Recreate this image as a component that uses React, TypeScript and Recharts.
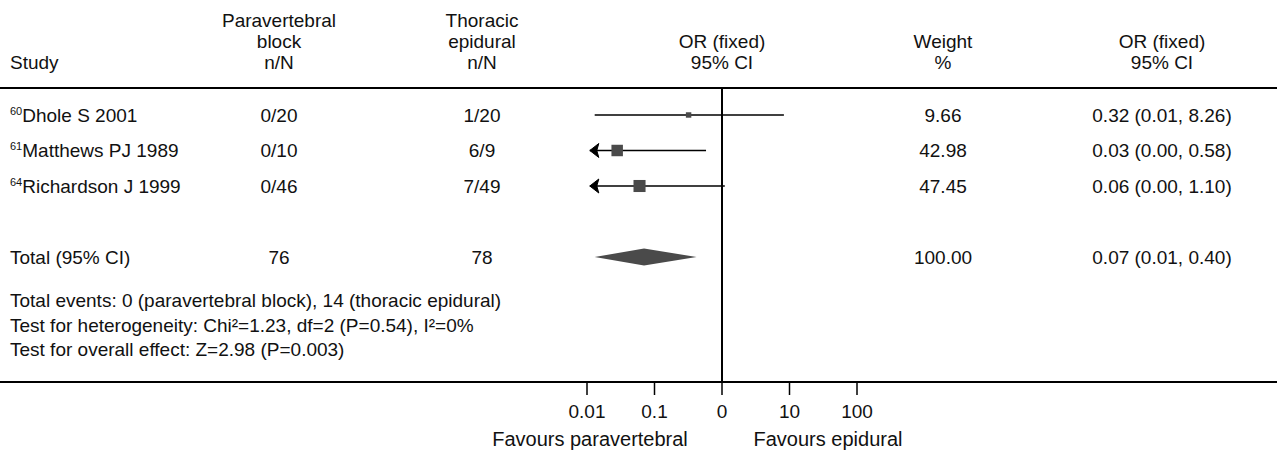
import { Area, ComposedChart, Customized, ReferenceLine, Scatter, XAxis, YAxis } from 'recharts'

// study rows
const studyNames = ['Dhole S 2001', 'Matthews PJ 1989', 'Richardson J 1999']
const studyRefs = ['60', '61', '64']
const pvbCounts = ['0/20', '0/10', '0/46']
const epiCounts = ['1/20', '6/9', '7/49']
const oddsRatios = [0.32, 0.028, 0.06]
const ciLower = [0.013, 0.011, 0.011] // as drawn (0.00 runs off the scale)
const ciUpper = [8.26, 0.58, 1.1]
const lowerClipped = [false, true, true]
const weights = [9.66, 42.98, 47.45]
const ciLabels = ['0.32 (0.01, 8.26)', '0.03 (0.00, 0.58)', '0.06 (0.00, 1.10)']
const studyRows = [1, 2, 3]

// pooled result
const totalRow = 5
const totalOr = 0.07
const totalLower = 0.013
const totalUpper = 0.42
const totalPvb = '76'
const totalEpi = '78'
const totalWeight = '100.00'
const totalLabel = '0.07 (0.01, 0.40)'

const tickValues = [0.01, 0.1, 1, 10, 100]
const tickLabels = ['0.01', '0.1', '0', '10', '100']

const footLines = [
  'Total events: 0 (paravertebral block), 14 (thoracic epidural)',
  'Test for heterogeneity: Chi²=1.23, df=2 (P=0.54), I²=0%',
  'Test for overall effect: Z=2.98 (P=0.003)',
]

const FONT = '"Liberation Sans", Arial, sans-serif'
const FS = 19
const COL = { study: 10, pvb: 279, epi: 482, plot: 722, weight: 943, ci: 1162 }
const DIAMOND_HALF = 0.24

const studies = studyNames.map((name, i) => ({
  x: oddsRatios[i],
  y: studyRows[i],
  name,
  ref: studyRefs[i],
  pvb: pvbCounts[i],
  epi: epiCounts[i],
  weight: weights[i],
  ci: ciLabels[i],
}))

const ciSegments = studyNames.map((_, i) => [
  { x: ciLower[i], y: studyRows[i], arrow: lowerClipped[i] },
  { x: ciUpper[i], y: studyRows[i], arrow: false },
])

const totalData = [
  { x: totalOr, y: totalRow, name: 'Total (95% CI)', pvb: totalPvb, epi: totalEpi, weight: totalWeight, ci: totalLabel },
]

const diamond = [
  { x: totalLower, band: [totalRow, totalRow] },
  { x: totalOr, band: [totalRow - DIAMOND_HALF, totalRow + DIAMOND_HALF] },
  { x: totalUpper, band: [totalRow, totalRow] },
]

const RowText = (props: any) => {
  const { cy, payload } = props
  const y = cy + 7
  return (
    <g fontFamily={FONT} fontSize={FS} fill="#111">
      <text x={COL.study} y={y}>
        {payload.ref ? (
          <>
            <tspan fontSize={11} dy={-7}>{payload.ref}</tspan>
            <tspan dy={7}>{payload.name}</tspan>
          </>
        ) : (
          payload.name
        )}
      </text>
      <text x={COL.pvb} y={y} textAnchor="middle">{payload.pvb}</text>
      <text x={COL.epi} y={y} textAnchor="middle">{payload.epi}</text>
      <text x={COL.weight} y={y} textAnchor="middle">
        {typeof payload.weight === 'number' ? payload.weight.toFixed(2) : payload.weight}
      </text>
      <text x={COL.ci} y={y} textAnchor="middle">{payload.ci}</text>
    </g>
  )
}

const Box = (props: any) => {
  const { cx, cy, payload } = props
  const s = 1.75 * Math.sqrt(payload.weight)
  return <rect x={cx - s / 2} y={cy - s / 2} width={s} height={s} fill="#4a4a4a" />
}

const Endpoint = (props: any) => {
  const { cx, cy, payload } = props
  if (!payload.arrow) return <g />
  return <path d={`M${cx},${cy} L${cx + 9},${cy - 7} L${cx + 7},${cy} L${cx + 9},${cy + 7} Z`} fill="#000" stroke="#000" strokeWidth={1} strokeLinejoin="round" />
}

const Decor = () => (
  <g fontFamily={FONT} fontSize={FS} fill="#111">
    <text x={COL.study} y={69}>Study</text>
    <text x={COL.pvb} y={27} textAnchor="middle">Paravertebral</text>
    <text x={COL.pvb} y={48} textAnchor="middle">block</text>
    <text x={COL.pvb} y={69} textAnchor="middle">n/N</text>
    <text x={COL.epi} y={27} textAnchor="middle">Thoracic</text>
    <text x={COL.epi} y={48} textAnchor="middle">epidural</text>
    <text x={COL.epi} y={69} textAnchor="middle">n/N</text>
    <text x={COL.plot} y={48} textAnchor="middle">OR (fixed)</text>
    <text x={COL.plot} y={69} textAnchor="middle">95% CI</text>
    <text x={COL.weight} y={48} textAnchor="middle">Weight</text>
    <text x={COL.weight} y={69} textAnchor="middle">%</text>
    <text x={COL.ci} y={48} textAnchor="middle">OR (fixed)</text>
    <text x={COL.ci} y={69} textAnchor="middle">95% CI</text>
    <line x1={0} x2={1277} y1={88} y2={88} stroke="#000" strokeWidth={2} />
    <line x1={0} x2={1277} y1={382} y2={382} stroke="#000" strokeWidth={2} />
    {footLines.map((t, i) => (
      <text key={i} x={COL.study} y={307 + i * 24.5}>{t}</text>
    ))}
    <text x={590} y={446} fontSize={20} textAnchor="middle">Favours paravertebral</text>
    <text x={828} y={446} fontSize={20} textAnchor="middle">Favours epidural</text>
  </g>
)

export default function App() {
  return (
    <div style={{ position: 'absolute', left: 0, top: 0, background: '#fff' }}>
      <ComposedChart
        width={1277}
        height={454}
        data={diamond}
        margin={{ top: 88, right: 420, bottom: 32, left: 587 }}
      >
        <XAxis
          dataKey="x"
          type="number"
          scale="log"
          domain={[0.01, 100]}
          ticks={tickValues}
          tickFormatter={(v: number) => tickLabels[tickValues.indexOf(v)] ?? String(v)}
          axisLine={false}
          tickLine={{ stroke: '#000', strokeWidth: 1.5 }}
          tickSize={13}
          tickMargin={10}
          height={40}
          tick={{ fill: '#111', fontSize: FS, fontFamily: FONT }}
          interval={0}
        />
        <YAxis dataKey="y" type="number" domain={[0.24, 8.52]} reversed hide />
        <Customized component={Decor} />
        <ReferenceLine x={1} stroke="#000" strokeWidth={2} />
        <Area
          type="linear"
          dataKey="band"
          stroke="none"
          fill="#4a4a4a"
          fillOpacity={1}
          dot={false}
          activeDot={false}
          isAnimationActive={false}
        />
        {ciSegments.map((seg, i) => (
          <Scatter
            key={i}
            data={seg}
            line={{ stroke: '#000', strokeWidth: 1.5 }}
            shape={Endpoint}
            isAnimationActive={false}
          />
        ))}
        <Scatter data={studies} shape={Box} isAnimationActive={false} />
        <Scatter data={studies} shape={RowText} isAnimationActive={false} />
        <Scatter data={totalData} shape={RowText} isAnimationActive={false} />
      </ComposedChart>
    </div>
  )
}
